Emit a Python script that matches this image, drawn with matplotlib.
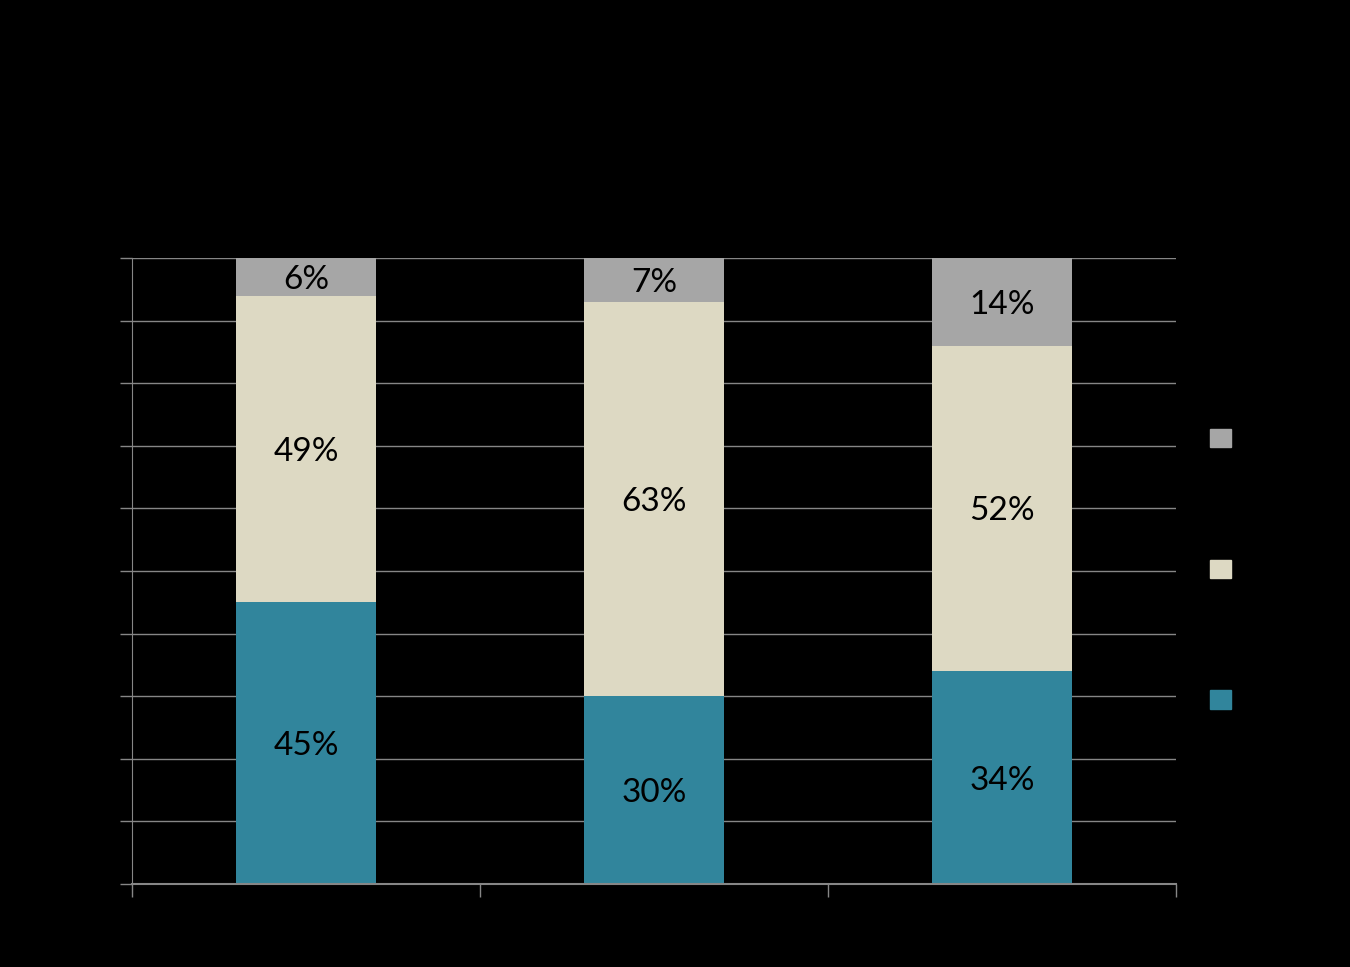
import matplotlib.pyplot as plt
from matplotlib.patches import Patch
import numpy as np

# valores (percentual, de baixo para cima)
categories = ['A', 'B', 'C']
bottom_vals = [45, 30, 34]
middle_vals = [49, 63, 52]
top_vals = [6, 7, 14]
colors = ['#31859C', '#DDD9C3', '#A6A6A6']

plt.rcParams['font.family'] = ['Lato', 'DejaVu Sans']

fig = plt.figure(figsize=(13.5, 9.67), dpi=100, facecolor='black')
ax = fig.add_axes([0.09778, 0.08583, 0.7733, 0.6474])
ax.set_facecolor('black')

x = np.arange(len(categories))
series = [bottom_vals, middle_vals, top_vals]
base = np.zeros(len(categories))
for vals, c in zip(series, colors):
    bars = ax.bar(x, vals, width=0.4, bottom=base, color=c, zorder=2)
    for b, v in zip(bars, vals):
        ax.text(b.get_x() + b.get_width() / 2, b.get_y() + b.get_height() / 2,
                f'{v}%', ha='center', va='center_baseline', fontsize=24,
                color='black', zorder=3)
    base = base + np.array(vals)

# eixos e grade
ax.set_xlim(-0.5, 2.5)
ax.set_ylim(0, 100)
ax.set_yticks(np.arange(0, 101, 10))
ax.set_yticklabels([])
ax.set_xticks([-0.5, 0.5, 1.5, 2.5])
ax.set_xticklabels([])
ax.yaxis.grid(True, color='#868686', linewidth=1)
ax.set_axisbelow(True)
ax.tick_params(axis='y', length=9, color='#868686', width=1)
ax.tick_params(axis='x', length=9.5, color='#868686', width=1)
for s in ['top', 'right']:
    ax.spines[s].set_visible(False)
ax.spines['left'].set_color('#868686')
ax.spines['bottom'].set_color('#868686')
ax.spines['bottom'].set_linewidth(1.5)

# legenda (texto invisível no original)
handles = [Patch(color=c) for c in reversed(colors)]
fig.legend(handles, ['', '', ''], loc='center left',
           bbox_to_anchor=(0.8963, 0.4116), frameon=False, fontsize=14,
           handlelength=1.1, handleheight=1.1, labelspacing=5.75,
           borderpad=0, borderaxespad=0, handletextpad=0.3)

fig.savefig('out.png', dpi=100, facecolor='black')
